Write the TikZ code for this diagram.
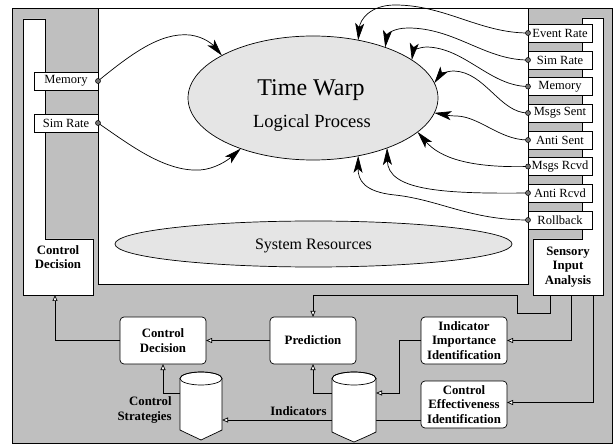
\documentclass[tikz,border=0pt]{standalone}
\usepackage{fontspec}
\setmainfont{Liberation Serif}
\usetikzlibrary{arrows.meta,shapes.geometric}
\definecolor{panel}{gray}{0.75}
\definecolor{blob}{gray}{0.9}
\definecolor{pincol}{gray}{0.45}

\begin{document}
\begin{tikzpicture}[x=1pt,y=-1pt, line width=0.7pt,
  tag/.style={draw, fill=white, minimum width=64pt, minimum height=18pt, inner sep=0pt, outer sep=0pt,
    font=\fontsize{12.5}{14}\selectfont},
  unit/.style={draw, fill=white, rounded corners=4pt, minimum width=86pt, minimum height=47pt,
    align=center, inner sep=1pt, outer sep=0pt, font=\fontsize{12.8}{14.3}\selectfont\bfseries},
  caption/.style={align=center, inner sep=0pt, font=\fontsize{12.8}{14.3}\selectfont\bfseries},
  flow/.style={-{Triangle[length=6pt,width=5pt,fill=white]}},
  feed/.style={-{Stealth[length=17pt,width=9pt,inset=4pt]}},
  jack/.style={circle, draw, fill=pincol, inner sep=0pt, minimum size=5pt, line width=0.5pt},
  blobstyle/.style={ellipse, draw, fill=blob, inner sep=0pt, outer sep=0pt},
]
\useasboundingbox (0,0) rectangle (613,446);

% panels
\draw[fill=panel] (12,8) rectangle (612.5,443);
\draw[fill=white] (98,8) rectangle (528,284);
\draw[fill=white] (23,19) -- (45,19) -- (45,239) -- (93,239) -- (93,295) -- (23,295) -- cycle;
\draw[fill=white] (582,18) -- (603,18) -- (603,295) -- (533,295) -- (533,239) -- (582,239) -- cycle;

% process and resources
\node[blobstyle, minimum width=250pt, minimum height=124pt] (tw) at (313,98) {};
\node[font=\fontsize{24}{28}\selectfont] (twt) at (311,90) {Time Warp};
\node[font=\fontsize{18.5}{22}\selectfont] (lpt) at (312,123) {Logical Process};
\node[blobstyle, minimum width=397pt, minimum height=46pt] (sr) at (313.5,244) {};
\node[font=\fontsize{16}{19}\selectfont] (srt) at (313.5,246) {System Resources};

% control side tags
\node[tag] (lm) at (66,81) {Memory};
\node[tag] (ls) at (66,123) {Sim Rate};
\node[caption] (lcd) at (58,257) {Control\\Decision};
\coordinate (lcdin) at (55,295);

% sensor side tags
\node[tag] (t1) at (560,33) {Event Rate};
\node[tag] (t2) at (560,60) {Sim Rate};
\node[tag] (t3) at (560,86.5) {Memory};
\node[tag] (t4) at (560,113) {Msgs Sent};
\node[tag] (t5) at (560,140) {Anti Sent};
\node[tag] (t6) at (560,166.5) {Msgs Rcvd};
\node[tag] (t7) at (560,193) {Anti Rcvd};
\node[tag] (t8) at (560,220) {Rollback};
\node[caption, minimum width=70pt, minimum height=56pt] (sia) at (568,267) {Sensory\\Input\\Analysis};

% control inputs into the process
\draw[feed] (lm.east) .. controls (130,55) and (160,32) .. (190,35) .. controls (205,37) and (213,45) .. (tw.155);
\draw[feed] (ls.east) .. controls (130,145) and (165,172) .. (200,170) .. controls (215,169) and (228,160) .. (tw.215.5);

% sensed quantities coming out of the process
\draw[feed] (t1.west) .. controls (480,33) and (445,5) .. (395,5) .. controls (370,5) and (360,20) .. (tw.52.8);
\draw[feed] (t2.west) .. controls (485,60) and (455,28) .. (408,28) .. controls (394,28) and (387,34) .. (tw.35.3);
\draw[feed] (t3.west) .. controls (490,86) and (465,48) .. (427,47) .. controls (418,47) and (413,52) .. (tw.21);
\draw[feed] (t4.west) .. controls (500,113) and (485,72) .. (454,71) .. controls (446,71) and (440,75) .. (tw.7.5);
\draw[feed] (t5.west) .. controls (500,140) and (480,117) .. (457,116) .. controls (448,116) and (441,114) .. (tw.-7);
\draw[feed] (t6.west) .. controls (470,168) and (440,158) .. (tw.-18.6);
\draw[feed] (t7.west) .. controls (440,194) and (388,190) .. (tw.-34);
\draw[feed] (t8.west) .. controls (470,220) and (440,200) .. (395,195) .. controls (364,192) and (358,180) .. (tw.-52);

% pins
\node[jack] (pl1) at (lm.east) {};
\node[jack] (pl2) at (ls.east) {};
\node[jack] (p1) at (t1.west) {};
\node[jack] (p2) at (t2.west) {};
\node[jack] (p3) at (t3.west) {};
\node[jack] (p4) at (t4.west) {};
\node[jack] (p5) at (t5.west) {};
\node[jack] (p6) at (t6.west) {};
\node[jack] (p7) at (t7.west) {};
\node[jack] (p8) at (t8.west) {};

% decision loop
\node[unit] (cd) at (163,340.5) {Control\\Decision};
\node[unit] (pred) at (313,340.5) {Prediction};
\node[unit] (iii) at (464,340.5) {Indicator\\Importance\\Identification};
\node[unit] (cei) at (464,404.5) {Control\\Effectiveness\\Identification};

\coordinate (csport) at (180,393);
\coordinate (csin) at (222,420);
\coordinate (indport) at (332,393);
\coordinate (indin) at (376,393);

\draw[flow] (cd.west) -| (lcdin);
\draw[flow] (pred.west) -- (cd.east);
\draw[flow] (csport) -| (cd.south);
\draw[flow] (cei.west |- csin) -- (csin);
\draw[flow] (indport) -| (pred.south);
\draw[flow] (iii.west) -- ++(-22,0) |- (indin);
\draw[flow] ([xshift=-18pt]sia.south) -- ++(0,18) -- ++(-33,0) -- ++(0,-18) -| (pred.north);
\draw[flow] ([xshift=3pt]sia.south) |- (iii.east);
\draw[flow] ([xshift=25pt]sia.south) |- ([yshift=2pt]cei.east);

% stores
\draw[fill=white] (180,378.5) -- (180,430) .. controls (188,434) and (195,437) .. (201,440)
  .. controls (207,437) and (214,434) .. (222,430) -- (222,378.5)
  arc[start angle=0, end angle=-180, x radius=21, y radius=6.5] -- cycle;
\draw (201,378.5) ellipse [x radius=21, y radius=6.5];
\draw[fill=white] (332,378.5) -- (332,432) .. controls (340,436) and (347,439) .. (354,442)
  .. controls (361,439) and (368,436) .. (376,432) -- (376,378.5)
  arc[start angle=0, end angle=-180, x radius=22, y radius=6.5] -- cycle;
\draw (354,378.5) ellipse [x radius=22, y radius=6.5];

\node[caption, align=right, anchor=east] (cslab) at (172,410) {Control\\Strategies};
\node[caption] (indlab) at (298.5,411) {Indicators};
\end{tikzpicture}
\end{document}
